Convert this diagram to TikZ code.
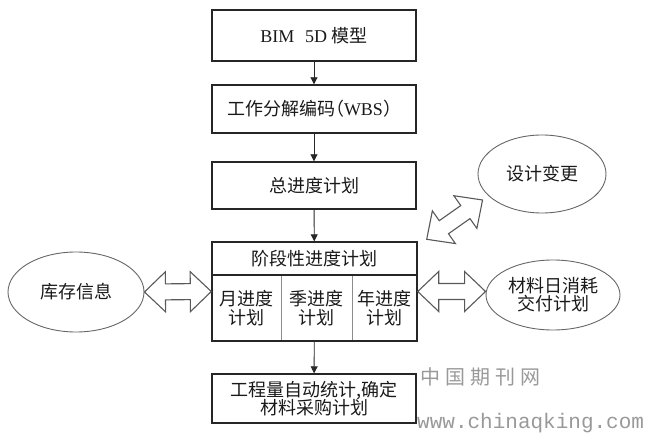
\documentclass[tikz,border=0pt]{standalone}
\usepackage{fontspec}
\setmainfont{Liberation Serif}
\newfontfamily\cjk{Noto Sans CJK SC}
\newfontfamily\wmmono{Liberation Mono}
\usetikzlibrary{calc,shapes.geometric,arrows.meta}

\newcommand{\blockarrow}[2]{%
  \coordinate (ba1) at ($(#1)!21pt!(#2)$);
  \coordinate (ba2) at ($(#2)!21pt!(#1)$);
  \draw[blockarr] (#1) -- ($(ba1)!20pt!90:(#2)$) -- ($(ba1)!8pt!90:(#2)$)
    -- ($(ba2)!8pt!-90:(#1)$) -- ($(ba2)!20pt!-90:(#1)$) -- (#2)
    -- ($(ba2)!20pt!90:(#1)$) -- ($(ba2)!8pt!90:(#1)$)
    -- ($(ba1)!8pt!-90:(#2)$) -- ($(ba1)!20pt!-90:(#2)$) -- cycle;
}

\begin{document}
\begin{tikzpicture}[x=1pt,y=-1pt,
  txt/.style={font=\cjk\fontsize{18}{20}\selectfont, text=black!90, align=center},
  box/.style={txt, draw=black!85, line width=1.4pt, minimum width=204pt, inner sep=0pt},
  colbox/.style={txt, draw=black!45, line width=0.8pt, minimum height=66pt, inner sep=0pt},
  oval/.style={txt, ellipse, draw=black!60, line width=0.9pt, inner sep=0pt},
  flow/.style={line width=0.9pt, draw=black!85, -{Triangle[length=7pt,width=7pt]}},
  blockarr/.style={draw=black!65, line width=1.1pt, fill=white, line join=miter},
  wm/.style={text=black!40, inner sep=0pt}
]
\useasboundingbox (0,0) rectangle (645,435);

% main flow boxes
\node[box, minimum height=51pt] (bim) at (314,35.5) {\fontspec{Liberation Serif}BIM\hspace{0.6em}5D {\cjk 模型}};
\node[box, minimum height=48pt] (wbs) at (314,109) {工作分解编码\kern-0.5em（{\fontspec{Liberation Serif}WBS}）};
\node[box, minimum height=47pt] (total) at (314,185.5) {总进度计划};

% staged plan block
\node[colbox, minimum width=69pt] (month) at (246.5,308) {月进度\\[-1pt]计划};
\node[colbox, minimum width=71pt] (season) at (316.5,308) {季进度\\[-1pt]计划};
\node[colbox, minimum width=65pt] (year) at (384.5,308) {年进度\\[-1pt]计划};
\node[box, minimum width=205pt, minimum height=33pt] (phase) at (314.5,258.5) {阶段性进度计划};
\node[draw=black!85, line width=1.4pt, minimum width=205pt, minimum height=99pt, inner sep=0pt] (big) at (314.5,291.5) {};

\node[box, minimum height=49pt] (qty) at (314,398.5) {工程量自动统计,确定\\[-2pt]材料采购计划};

% ellipses
\node[oval, minimum width=136pt, minimum height=80pt] (stock) at (76,292) {库存信息};
\node[oval, minimum width=134pt, minimum height=70pt] (mat) at (553,295) {材料日消耗\\[-2pt]交付计划};
\node[oval, minimum width=128pt, minimum height=78pt] (design) at (542,174) {设计变更};

% flow arrows
\draw[flow] (bim) -- (wbs);
\draw[flow] (wbs) -- (total);
\draw[flow] (total) -- (big);
\draw[flow] (big) -- (qty);

% block double arrows
\coordinate (la) at (stock.east);
\coordinate (lb) at (big.west);
\blockarrow{la}{lb}
\coordinate (ra) at (big.east);
\coordinate (rb) at (big.east -| mat.west);
\blockarrow{ra}{rb}
\coordinate (da) at ($(big.north east)+(9,-2)$);
\coordinate (db) at ($(design.west)+(5,26)$);
\blockarrow{da}{db}

% watermark
\node[wm, font=\cjk\fontsize{20}{22}\selectfont] (wm1) at (480,377) {中\kern5pt 国\kern5pt 期\kern5pt 刊\kern5pt 网};
\node[wm, font=\wmmono\fontsize{21}{22}\selectfont, anchor=base west] (wm2) at (417,428) {www.chinaqking.com};
\end{tikzpicture}
\end{document}
